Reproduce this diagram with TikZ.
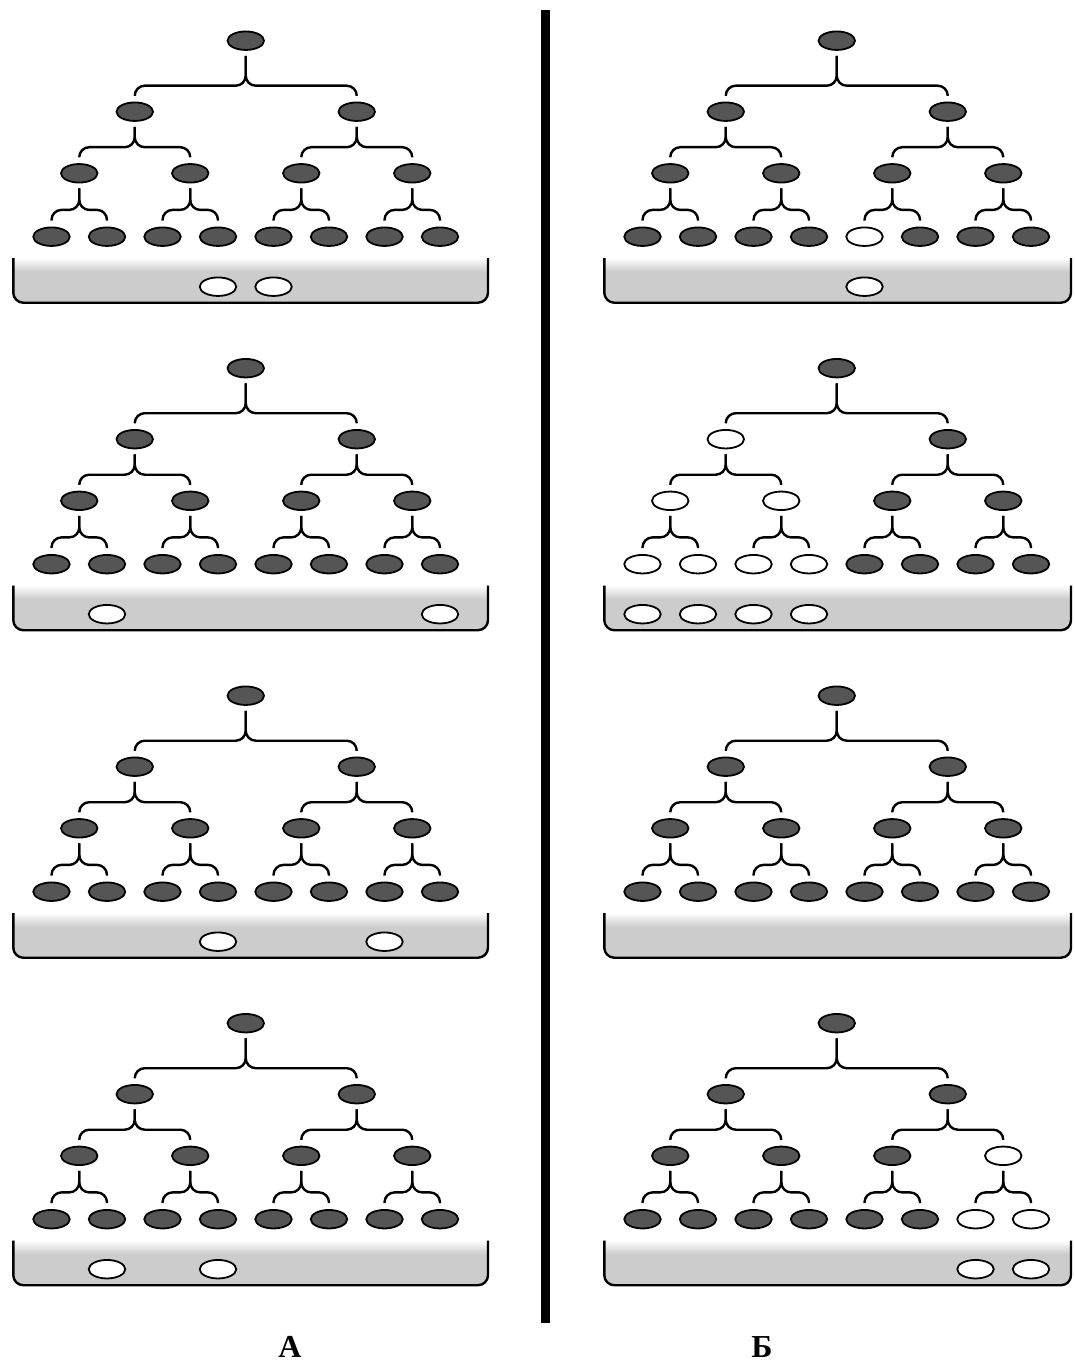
\documentclass[tikz,border=0pt]{standalone}
\usepackage{fontspec}
\setmainfont{Liberation Serif}
\usetikzlibrary{shapes.geometric}
\definecolor{nodedark}{RGB}{85,85,85}
\definecolor{trayg}{RGB}{204,204,204}
\tikzset{
  dn/.style={ellipse, draw=black, line width=1.8pt, fill=nodedark, minimum width=36.5pt, minimum height=18.5pt, inner sep=0pt},
  wn/.style={dn, fill=white},
  br/.style={draw=black, line width=2.4pt, rounded corners=10pt},
  trayline/.style={draw=black, line width=2.4pt, rounded corners=10pt},
  lab/.style={font=\bfseries\fontsize{32}{32}\selectfont, inner sep=0pt}
}
\newcommand\mkw[1]{\expandafter\def\csname isw#1\endcsname{}}
\mkw{B1c5}\mkw{B1t5}
\mkw{B2a1}\mkw{B2b1}\mkw{B2b2}\mkw{B2c1}\mkw{B2c2}\mkw{B2c3}\mkw{B2c4}
\mkw{B2t1}\mkw{B2t2}\mkw{B2t3}\mkw{B2t4}
\mkw{B4b4}\mkw{B4c7}\mkw{B4c8}\mkw{B4t7}\mkw{B4t8}
\mkw{A1t4}\mkw{A1t5}\mkw{A2t2}\mkw{A2t8}\mkw{A3t4}\mkw{A3t7}\mkw{A4t2}\mkw{A4t4}
\begin{document}
\begin{tikzpicture}[x=1pt,y=-1pt]
\useasboundingbox (0,0) rectangle (1074,1364);
\foreach \p/\xo/\xr in {A/0/488,B/591/1071}{
  \foreach \t/\yo in {1/40.7,2/368.2,3/695.7,4/1023.2}{
    % tray
    \fill[trayg] (\xo+13.3,\yo+217.3) [rounded corners=10pt] -- (\xo+13.3,\yo+262) -- (\xr,\yo+262) -- (\xr,\yo+217.3);
    \shade[top color=white, bottom color=trayg] (\xo+14.5,\yo+217.3) rectangle (\xr-1.2,\yo+231);
    \draw[trayline] (\xo+13.3,\yo+217.3) -- (\xo+13.3,\yo+262) -- (\xr,\yo+262) -- (\xr,\yo+217.3);
    % root
    \edef\nm{\p\t r}
    \edef\st{\ifcsname isw\nm\endcsname wn\else dn\fi}
    \node[\st] (\nm) at (\xo+245.75,\yo) {};
    % level 1
    \foreach \k in {1,2}{
      \edef\nm{\p\t a\k}
      \edef\st{\ifcsname isw\nm\endcsname wn\else dn\fi}
      \node[\st] (\nm) at (\xo+134.75+222*\k-222,\yo+71) {};
    }
    % level 2
    \foreach \j in {1,...,4}{
      \edef\nm{\p\t b\j}
      \edef\st{\ifcsname isw\nm\endcsname wn\else dn\fi}
      \node[\st] (\nm) at (\xo+79.25+111*\j-111,\yo+132.6) {};
    }
    % leaves and tray items
    \foreach \i in {1,...,8}{
      \edef\nm{\p\t c\i}
      \edef\st{\ifcsname isw\nm\endcsname wn\else dn\fi}
      \node[\st] (\nm) at (\xo+51.5+55.5*\i-55.5,\yo+196) {};
      \edef\tn{\p\t t\i}
      \ifcsname isw\tn\endcsname
        \node[wn] (\tn) at (\xo+51.5+55.5*\i-55.5,\yo+246) {};
      \fi
    }
    % root bracket
    \coordinate (h) at (0,\yo+45);
    \foreach \k in {1,2}{
      \edef\pa{\p\t r}\edef\ch{\p\t a\k}
      \draw[br] ([yshift=-5pt]\pa.south) -- (\pa |- h) -- (\ch |- h) -- ([yshift=6pt]\ch.north);
    }
    % level-1 brackets
    \coordinate (h) at (0,\yo+106.5);
    \foreach \k in {1,2}{
      \foreach \s in {1,0}{
        \pgfmathtruncatemacro\c{2*\k-\s}
        \edef\pa{\p\t a\k}\edef\ch{\p\t b\c}
        \draw[br] ([yshift=-5pt]\pa.south) -- (\pa |- h) -- (\ch |- h) -- ([yshift=6pt]\ch.north);
      }
    }
    % level-2 brackets
    \coordinate (h) at (0,\yo+169.2);
    \foreach \j in {1,...,4}{
      \foreach \s in {1,0}{
        \pgfmathtruncatemacro\c{2*\j-\s}
        \edef\pa{\p\t b\j}\edef\ch{\p\t c\c}
        \draw[br] ([yshift=-5pt]\pa.south) -- (\pa |- h) -- (\ch |- h) -- ([yshift=6pt]\ch.north);
      }
    }
  }
}
% divider
\fill[black] (540.5,10) rectangle (549.5,1323);
% labels
\node[lab] (labA) at (290,1347) {А};
\node[lab] (labB) at (762,1347) {Б};
\end{tikzpicture}
\end{document}
